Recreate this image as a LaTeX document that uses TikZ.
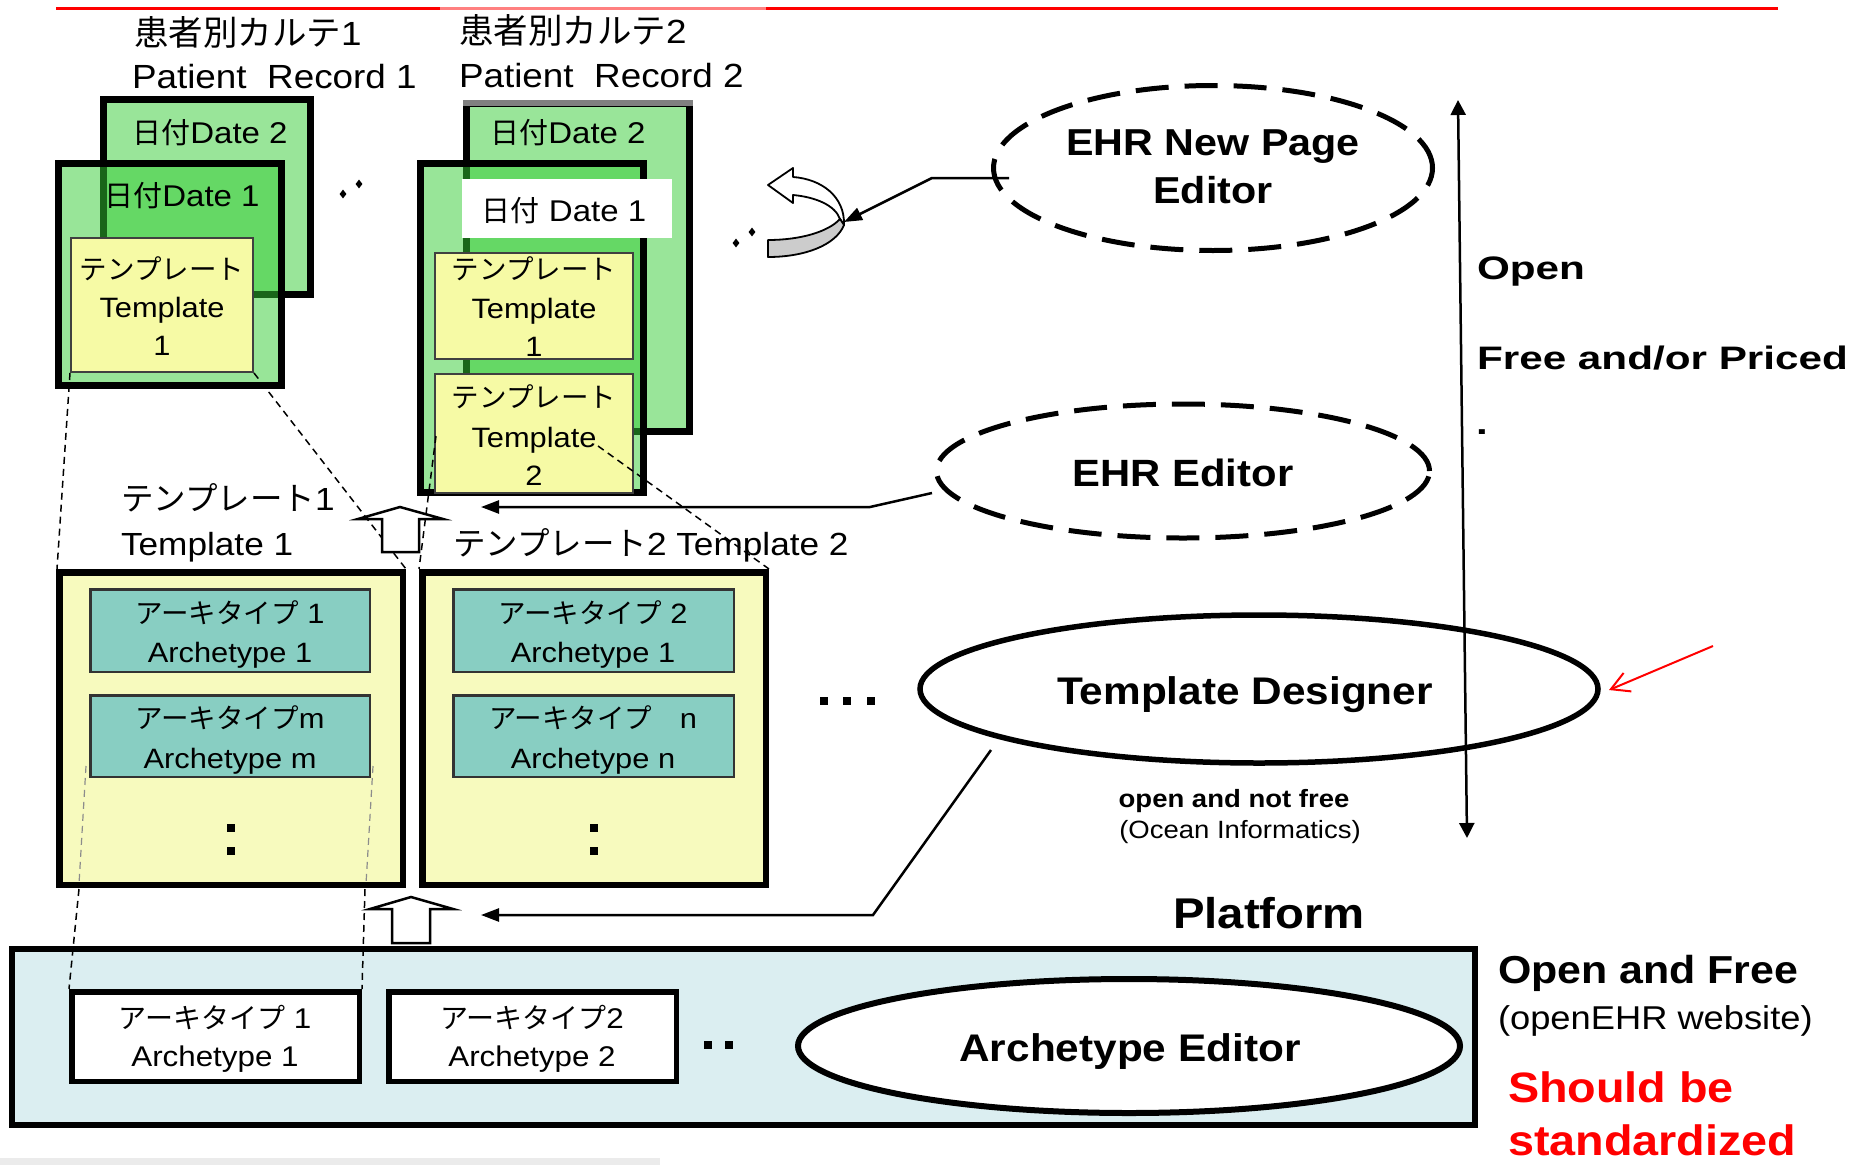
\documentclass[tikz,border=0pt]{standalone}
\usepackage{fontspec}
\setmainfont{Liberation Sans}[FakeStretch=1.1]
\newfontfamily\jp{Noto Sans CJK JP}
\newfontfamily\widefont{Liberation Sans}[FakeStretch=1.3]
\usetikzlibrary{arrows.meta,shapes.geometric,fit}
\newcommand\myfs[1]{\fontsize{#1}{#1}\selectfont}
\definecolor{lgreen}{RGB}{153,229,153}
\definecolor{mgreen}{RGB}{51,204,51}
\definecolor{tyellow}{RGB}{246,250,165}
\definecolor{cyellow}{RGB}{247,250,190}
\definecolor{teal2}{RGB}{136,206,194}
\definecolor{plat}{RGB}{219,238,241}
\definecolor{bandgray}{RGB}{204,204,204}
\begin{document}
\begin{tikzpicture}[x=1pt,y=-1pt,
  lbl/.style={inner sep=0pt, outer sep=0pt, anchor=base},
  lblw/.style={inner sep=0pt, outer sep=0pt, anchor=base west},
  thickbox/.style={draw=black, line width=7pt, inner sep=-3.5pt},
  tbox/.style={draw=black!75, line width=2pt, inner sep=-1pt, fill=tyellow},
  cbox/.style={draw=black, line width=6.5pt, inner sep=-3.25pt, fill=cyellow},
  abox/.style={draw=black!80, line width=2.5pt, inner sep=-1.25pt, fill=teal2},
  pbox/.style={draw=black, line width=5.5pt, inner sep=-2.75pt, fill=white},
  ddot/.style={diamond, fill=black, inner sep=0pt, minimum width=7pt, minimum height=9pt},
  sdot/.style={rectangle, fill=black, inner sep=0pt, minimum width=8pt, minimum height=8pt},
  conn/.style={draw=black, line width=2.5pt, -{Triangle[length=18pt,width=13pt]}},
  dline/.style={draw=black, line width=1.5pt, dash pattern=on 7pt off 5pt},
  gline/.style={draw=black!45, line width=1.2pt, dash pattern=on 7pt off 5pt},
  barrow/.style={draw=black, line width=2.5pt, fill=white, line join=miter},
  dellipse/.style={ellipse, draw=black, line width=5pt, dash pattern=on 33pt off 16pt, inner sep=0pt},
  sellipse/.style={ellipse, draw=black, line width=5.5pt, fill=white, inner sep=0pt},
]
\useasboundingbox (0,0) rectangle (1855,1165);
\fill[white] (0,0) rectangle (1855,1165);

% top red rule and bottom strip
\draw[red, line width=3pt] (56,8) -- (1778,8);
\fill[black!8] (0,1158) rectangle (660,1165);

% ---------- Patient record 1 ----------
\node[thickbox, fill=lgreen, fit={(100,96)(314,298)}] (r1back) {};
\node[lbl, font=\myfs{30}] (r1d2) at (210,143) {{\jp\myfs{29}日付}Date 2};
\node[thickbox, fill=mgreen, fill opacity=0.5, fit={(55,160)(285,389)}] (r1front) {};
\node[lbl, font=\myfs{30}] (r1d1) at (182,206) {{\jp\myfs{29}日付}Date 1};
\node[tbox, fit={(70,237)(254,373)}] (r1t1) {};
\node[lbl, font=\jp\myfs{27.5}] (r1t1a) at (162,279) {テンプレート};
\node[lbl, font=\myfs{28}] (r1t1b) at (162,317) {Template};
\node[lbl, font=\myfs{28}] (r1t1c) at (162,355) {1};
\node[lblw, font=\myfs{33.5}] (r1jp) at (134,45) {{\jp\myfs{34.5}患者別カルテ}1};
\node[lblw, font=\myfs{33.5}] (r1en) at (132,88) {Patient\ \ Record 1};

% ---------- Patient record 2 ----------
\node[thickbox, fill=lgreen, fit={(463,100)(693,435)}] (r2back) {};
\fill[white, opacity=0.5] (440,0) rectangle (766,106);
\node[lbl, font=\myfs{30}] (r2d2) at (568,143) {{\jp\myfs{29}日付}Date 2};
\node[thickbox, fill=mgreen, fill opacity=0.5, fit={(417,160)(647,496)}] (r2front) {};
\node[fill=white, inner sep=0pt, fit={(462,179)(672,238)}] (r2d1box) {};
\node[lbl, font=\myfs{30}] (r2d1) at (564,221) {{\jp\myfs{29}日付} Date 1};
\node[tbox, fit={(434,252)(634,360)}] (r2t1) {};
\node[lbl, font=\jp\myfs{27.5}] (r2t1a) at (534,279) {テンプレート};
\node[lbl, font=\myfs{28}] (r2t1b) at (534,318) {Template};
\node[lbl, font=\myfs{28}] (r2t1c) at (534,356) {1};
\node[tbox, fit={(434,373)(634,494)}] (r2t2) {};
\node[lbl, font=\jp\myfs{27.5}] (r2t2a) at (534,407) {テンプレート};
\node[lbl, font=\myfs{28}] (r2t2b) at (534,447) {Template};
\node[lbl, font=\myfs{28}] (r2t2c) at (534,485) {2};
\node[lblw, font=\myfs{33.5}] (r2jp) at (459,43) {{\jp\myfs{34.5}患者別カルテ}2};
\node[lblw, font=\myfs{33.5}] (r2en) at (459,87) {Patient\ \ Record 2};

% dots between records
\node[ddot] (dd1) at (343,194) {};
\node[ddot] (dd2) at (359,184) {};

% ---------- curved (new page) arrow ----------
\draw[line width=1.8pt, fill=white, line join=round] (844,225) .. controls (845,196) and (821,179) .. (793,177) -- (793,168) -- (768,185) -- (793,203) -- (793,195) .. controls (815,197) and (835,205) .. (840,219) -- cycle;
\draw[line width=1.8pt, fill=bandgray, line join=round] (768,240) .. controls (800,240) and (828,232) .. (840,219) -- (844,225) .. controls (836,245) and (805,257) .. (768,257) -- cycle;
\coordinate (curv) at (844,222);
\node[ddot] (dd3) at (736,243) {};
\node[ddot] (dd4) at (752,232) {};

% ---------- template labels ----------
\node[lblw, font=\myfs{32}] (l1a) at (121,510) {{\jp\myfs{32.5}テンプレート}1};
\node[lblw, font=\myfs{32}] (l1b) at (121,555) {Template 1};
\node[lblw, font=\myfs{32}] (l2) at (453,555) {{\jp\myfs{32.5}テンプレート}2 Template 2};

% ---------- dashed projection lines (records -> templates) ----------
\coordinate (r2tl) at (436,436);
\coordinate (r2tr) at (598,446);
\coordinate (tc1tl) at (57,569);
\coordinate (tc1tr) at (406,569);
\coordinate (tc2tl) at (419,569);
\coordinate (tc2tr) at (769,569);
\draw[dline] (r1t1.south west) -- (tc1tl);
\draw[dline] (r1t1.south east) -- (tc1tr);
\draw[dline] (r2tl) -- (tc2tl);
\draw[dline] (r2tr) -- (tc2tr);

% ---------- template containers ----------
\node[cbox, fit={(56,569)(406,888)}] (tc1) {};
\node[cbox, fit={(419,569)(769,888)}] (tc2) {};
\node[abox, fit={(89,588)(371,673)}] (a11) {};
\node[abox, fit={(89,694)(371,778)}] (a1m) {};
\node[abox, fit={(452,588)(735,673)}] (a21) {};
\node[abox, fit={(452,694)(735,778)}] (a2n) {};
\node[lbl, font=\myfs{28}] (a11a) at (230,623) {{\jp\myfs{27.5}アーキタイプ} 1};
\node[lbl, font=\myfs{28}] (a11b) at (230,662) {Archetype 1};
\node[lbl, font=\myfs{28}] (a1ma) at (230,728) {{\jp\myfs{27.5}アーキタイプ}m};
\node[lbl, font=\myfs{28}] (a1mb) at (230,768) {Archetype m};
\node[lbl, font=\myfs{28}] (a21a) at (593,623) {{\jp\myfs{27.5}アーキタイプ} 2};
\node[lbl, font=\myfs{28}] (a21b) at (593,662) {Archetype 1};
\node[lbl, font=\myfs{28}] (a2na) at (593,728) {{\jp\myfs{27.5}アーキタイプ　}n};
\node[lbl, font=\myfs{28}] (a2nb) at (593,768) {Archetype n};
\node[sdot] (c11) at (231,828) {};
\node[sdot] (c12) at (231,851) {};
\node[sdot] (c21) at (594,828) {};
\node[sdot] (c22) at (594,851) {};
\node[sdot] (e1) at (824,701) {};
\node[sdot] (e2) at (847,701) {};
\node[sdot] (e3) at (871,701) {};

% dashed lines archetype m -> platform archetype 1
\coordinate (gl1) at (86,766);
\coordinate (gl2) at (79,884);
\coordinate (gr1) at (373,766);
\coordinate (gr2) at (366,884);
\draw[gline] (gl1) -- (gl2);
\draw[gline] (gr1) -- (gr2);

% ---------- block arrows ----------
\draw[barrow] (382,552) -- (382,519) -- (358,519) -- (400,507) -- (443,519) -- (419,519) -- (419,552) -- cycle;

% ---------- platform ----------
\node[thickbox, line width=6pt, inner sep=-3pt, fill=plat, fit={(9,946)(1478,1128)}] (plat) {};
\node[pbox, fit={(69,989)(362,1084)}] (pa1) {};
\node[pbox, fit={(386,989)(679,1084)}] (pa2) {};
\draw[dline] (79,889) -- (pa1.north west);
\draw[dline] (365,889) -- (pa1.north east);
\draw[barrow] (392,943) -- (392,909) -- (370,909) -- (411,897) -- (453,909) -- (430,909) -- (430,943) -- cycle;
\node[lbl, font=\myfs{28.5}] (pa1a) at (215,1028) {{\jp\myfs{28}アーキタイプ} 1};
\node[lbl, font=\myfs{28.5}] (pa1b) at (215,1066) {Archetype 1};
\node[lbl, font=\myfs{28.5}] (pa2a) at (532,1028) {{\jp\myfs{28}アーキタイプ}2};
\node[lbl, font=\myfs{28.5}] (pa2b) at (532,1066) {Archetype 2};
\node[sdot] (p1) at (708,1045) {};
\node[sdot] (p2) at (729,1045) {};
\node[sellipse, line width=6pt, minimum width=662pt, minimum height=134pt] (ae) at (1129,1046) {};
\node[lbl, font=\bfseries\myfs{38.5}] (aet) at (1130,1061) {Archetype Editor};
\node[lbl, font=\bfseries\myfs{43}] (platt) at (1269,928) {Platform};

% ---------- editors ----------
\node[dellipse, minimum width=439pt, minimum height=165pt] (np) at (1213,168) {};
\node[lbl, font=\bfseries\myfs{37.5}] (npa) at (1213,155) {EHR New Page};
\node[lbl, font=\bfseries\myfs{37.5}] (npb) at (1213,203) {Editor};
\node[dellipse, minimum width=493pt, minimum height=134pt] (ee) at (1183,471) {};
\node[lbl, font=\bfseries\myfs{38}] (eet) at (1183,486) {EHR Editor};
\node[sellipse, fill=none, minimum width=678pt, minimum height=148pt] (td) at (1259,689) {};
\node[lbl, font=\bfseries\myfs{38.5}] (tdt) at (1245,704) {Template Designer};
\node[lbl, font=\bfseries\myfs{25}] (tdn1) at (1234,807) {open and not free};
\node[lbl, font=\myfs{25}] (tdn2) at (1240,838) {(Ocean Informatics)};

% ---------- connectors ----------
\coordinate (npS) at (1009,178);
\coordinate (npK) at (932,178);
\draw[conn] (npS) -- (npK) -- (curv);
\coordinate (eeS) at (932,493);
\coordinate (eeK) at (870,507);
\coordinate (eeE) at (481,507);
\draw[conn] (eeS) -- (eeK) -- (eeE);
\coordinate (tdS) at (991,750);
\coordinate (tdK) at (873,915);
\coordinate (tdE) at (481,915);
\draw[conn] (tdS) -- (tdK) -- (tdE);

% ---------- openness scale ----------
\coordinate (vaB) at (1467,838);
\coordinate (vaT) at (1458,100);
\draw[line width=2.5pt, {Triangle[length=15pt,width=15pt]}-{Triangle[length=15pt,width=15pt]}] (vaB) -- (vaT);
\node[lblw, font=\widefont\bfseries\myfs{32.5}] (op) at (1477,279) {Open};
\node[lblw, font=\widefont\bfseries\myfs{32.5}] (fp) at (1477,369) {Free and/or Priced};
\node[lblw, font=\widefont\bfseries\myfs{32.5}] (fpd) at (1476,434) {.};

% red pointer
\coordinate (rpS) at (1713,646);
\coordinate (rpE) at (1609,690);
\draw[red, line width=2pt, -{Straight Barb[length=18pt,width=20pt]}] (rpS) -- (rpE);

% platform notes
\node[lblw, font=\bfseries\myfs{39}] (of) at (1498,983) {Open and Free};
\node[lblw, font=\myfs{33}] (ow) at (1498,1029) {(openEHR website)};
\node[lblw, font=\bfseries\myfs{42.5}, text=red] (sb1) at (1508,1102) {Should be};
\node[lblw, font=\bfseries\myfs{42.5}, text=red] (sb2) at (1508,1155) {standardized};
\end{tikzpicture}
\end{document}
